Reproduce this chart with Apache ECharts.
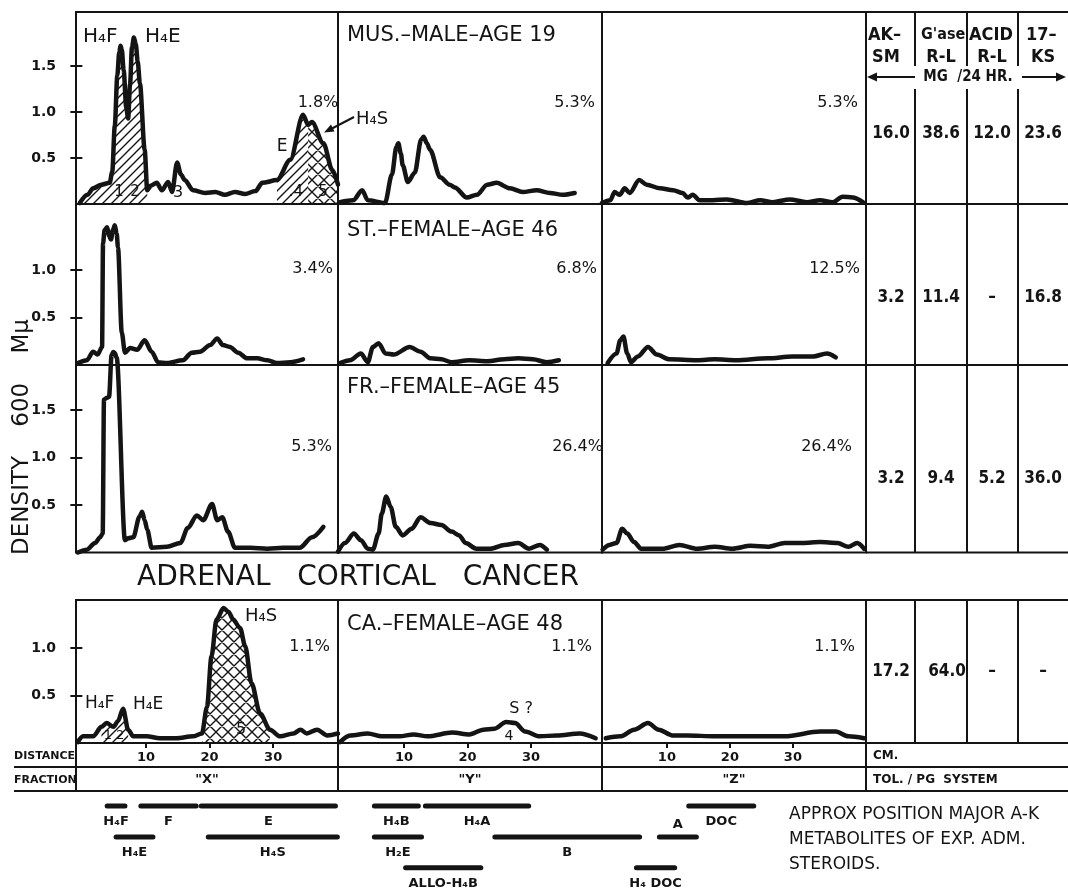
<!DOCTYPE html>
<html>
<head>
<meta charset="utf-8">
<title>Adrenal cortical cancer - paper strip scans</title>
<script src="https://cdn.jsdelivr.net/npm/echarts@6.0.0/dist/echarts.min.js"></script>
<style>
  html, body { margin: 0; padding: 0; background: #fff; }
  #chart { width: 1068px; height: 888px; }
</style>
</head>
<body>
<div id="chart"></div>
<script>
// density at 600 mμ against distance (cm), one scan per patient and fraction
const musX = [[-0.4,0.01],[0.8,0.10],[1.7,0.17],[3.0,0.21],[4.3,0.23],[4.7,0.35],[5.1,0.85],[5.5,1.40],[5.8,1.65],[6.0,1.72],[6.2,1.68],[6.5,1.45],[6.9,1.05],[7.2,0.93],[7.5,1.30],[7.8,1.70],[8.1,1.81],[8.4,1.74],[8.7,1.55],[9.05,1.31],[9.8,0.59],[10.2,0.15],[10.8,0.20],[11.7,0.23],[12.5,0.15],[13.5,0.24],[14.1,0.13],[14.9,0.45],[15.5,0.32],[16.1,0.26],[17.4,0.15],[19.3,0.12],[20.9,0.13],[22.4,0.10],[24.0,0.13],[25.6,0.11],[27.2,0.14],[28.3,0.23],[30.6,0.26],[32.7,0.48],[34.7,0.97],[35.5,0.86],[36.1,0.89],[37.9,0.66],[39.3,0.37],[40.2,0.21]];
const musY = [[-0.1,0.02],[2.0,0.04],[3.4,0.15],[4.3,0.04],[7.0,0.01],[8.1,0.32],[8.8,0.62],[9.1,0.66],[9.5,0.55],[9.8,0.42],[10.6,0.24],[11.7,0.34],[12.7,0.70],[13.1,0.73],[13.6,0.66],[14.1,0.59],[15.7,0.29],[17.2,0.21],[18.0,0.18],[19.9,0.07],[21.5,0.10],[23.1,0.21],[24.6,0.23],[26.7,0.17],[28.7,0.13],[30.9,0.15],[33.0,0.12],[35.0,0.10],[36.9,0.12]];
const musZ = [[-0.3,0.01],[1.0,0.04],[1.7,0.13],[2.5,0.10],[3.3,0.17],[4.1,0.12],[5.6,0.26],[6.8,0.21],[8.9,0.17],[11.0,0.15],[12.5,0.12],[13.3,0.07],[14.1,0.10],[15.2,0.04],[17.3,0.04],[19.5,0.05],[22.7,0.01],[24.8,0.04],[26.8,0.02],[29.5,0.05],[32.2,0.02],[34.3,0.04],[36.3,0.02],[37.9,0.08],[39.5,0.07],[41.1,0.02]];

const stX = [[-0.7,0.02],[0.7,0.05],[1.7,0.14],[2.4,0.11],[3.1,0.19],[3.25,1.28],[3.5,1.42],[3.9,1.45],[4.2,1.36],[4.5,1.32],[4.8,1.42],[5.1,1.47],[5.4,1.38],[5.6,1.24],[6.2,0.34],[6.7,0.13],[7.5,0.18],[8.6,0.16],[9.8,0.26],[10.9,0.14],[11.9,0.03],[13.3,0.02],[15.8,0.05],[17.2,0.13],[18.5,0.14],[20.1,0.21],[21.2,0.28],[22.1,0.21],[23.2,0.19],[24.5,0.13],[25.9,0.07],[27.5,0.07],[29.1,0.05],[30.6,0.02],[32.7,0.03],[34.7,0.06]];
const stY = [[-0.1,0.02],[1.5,0.05],[3.2,0.12],[4.3,0.03],[5.1,0.19],[6.0,0.23],[7.1,0.12],[8.4,0.11],[10.9,0.19],[12.6,0.14],[14.2,0.07],[15.9,0.06],[17.5,0.03],[20.3,0.05],[23.1,0.04],[25.8,0.06],[28.0,0.07],[30.3,0.06],[32.5,0.03],[34.4,0.05]];
const stZ = [[0.6,0.02],[2.0,0.12],[2.6,0.26],[3.1,0.30],[3.7,0.12],[4.3,0.03],[5.4,0.09],[7.0,0.19],[8.4,0.11],[10.4,0.06],[14.8,0.05],[17.6,0.06],[21.0,0.05],[26.0,0.07],[29.9,0.09],[33.2,0.09],[35.4,0.12],[36.8,0.08]];

const frX = [[-0.7,0.0],[0.7,0.03],[2.0,0.10],[2.8,0.16],[3.2,0.2],[3.4,1.61],[3.9,1.63],[4.2,1.64],[4.6,2.08],[4.85,2.11],[5.1,2.10],[5.4,2.05],[6.7,0.13],[7.2,0.15],[8.0,0.16],[9.0,0.38],[9.4,0.43],[9.8,0.34],[10.2,0.24],[10.9,0.05],[13.3,0.06],[15.4,0.10],[16.6,0.26],[18.0,0.39],[19.0,0.34],[20.4,0.51],[21.2,0.34],[22.0,0.37],[22.9,0.22],[24.0,0.05],[26.4,0.05],[29.1,0.04],[31.6,0.05],[34.2,0.05],[36.1,0.16],[37.9,0.27]];
const frY = [[-0.4,0.01],[0.7,0.10],[2.1,0.20],[3.2,0.13],[4.3,0.04],[5.1,0.03],[6.0,0.20],[6.5,0.41],[7.2,0.59],[7.9,0.48],[8.7,0.27],[9.8,0.18],[11.2,0.25],[12.6,0.37],[14.2,0.31],[15.9,0.29],[17.5,0.22],[18.7,0.18],[19.7,0.10],[21.4,0.04],[23.6,0.04],[25.8,0.08],[28.0,0.10],[29.7,0.04],[31.4,0.08],[32.5,0.03]];
const frZ = [[-0.2,0.03],[0.9,0.08],[2.0,0.10],[2.9,0.25],[3.7,0.20],[4.8,0.11],[5.9,0.04],[9.3,0.04],[12.0,0.08],[14.8,0.04],[17.6,0.06],[20.4,0.04],[23.3,0.07],[26.0,0.06],[28.7,0.10],[31.5,0.10],[34.3,0.11],[37.1,0.10],[38.8,0.06],[40.2,0.10],[41.3,0.04]];

const caX = [[-0.7,0.01],[0.1,0.07],[1.7,0.07],[3.0,0.17],[3.8,0.21],[4.9,0.17],[5.6,0.23],[6.4,0.36],[7.2,0.14],[8.0,0.07],[10.1,0.07],[12.2,0.05],[14.8,0.05],[17.4,0.07],[18.8,0.10],[19.6,0.38],[20.3,0.91],[21.1,1.30],[22.2,1.42],[23.0,1.38],[23.7,1.30],[24.8,1.21],[25.6,1.02],[26.6,0.63],[27.95,0.31],[29.5,0.14],[31.1,0.07],[33.2,0.10],[34.3,0.14],[35.3,0.10],[36.9,0.14],[38.5,0.08],[40.2,0.10]];
const caY = [[-0.1,0.01],[1.5,0.08],[4.3,0.10],[6.5,0.07],[9.3,0.07],[11.5,0.09],[13.7,0.07],[17.6,0.11],[20.3,0.09],[22.5,0.14],[24.2,0.15],[26.1,0.22],[27.5,0.21],[29.1,0.12],[31.4,0.07],[34.1,0.08],[37.7,0.10],[40.2,0.05]];
const caZ = [[0.3,0.05],[2.6,0.07],[4.8,0.14],[7.0,0.21],[8.7,0.14],[10.9,0.08],[13.2,0.08],[17.6,0.07],[23.3,0.07],[28.7,0.07],[34.3,0.12],[36.8,0.12],[38.8,0.07],[41.3,0.05]];

const patients = ['MUS.–MALE–AGE 19', 'ST.–FEMALE–AGE 46', 'FR.–FEMALE–AGE 45', 'CA.–FEMALE–AGE 48'];
const percents = [['1.8%', '5.3%', '5.3%'], ['3.4%', '6.8%', '12.5%'], ['5.3%', '26.4%', '26.4%'], ['1.1%', '1.1%', '1.1%']];
const yTickValues = [[0.5, 1, 1.5], [0.5, 1], [0.5, 1, 1.5], [0.5, 1]];
const distTicks = [10, 20, 30];
const fractions = ['"X"', '"Y"', '"Z"'];

// urinary excretion, mg / 24 hr
const tableHead = [['AK–', 'SM'], ["G'ase", 'R-L'], ['ACID', 'R-L'], ['17–', 'KS']];
const tableRows = [['16.0', '38.6', '12.0', '23.6'], ['3.2', '11.4', '–', '16.8'], ['3.2', '9.4', '5.2', '36.0'], ['17.2', '64.0', '–', '–']];

// approx position of the major A-K metabolites (cm), system X and systems Y/Z
const xBarNames = ['H₄F', 'F', 'E', 'H₄E', 'H₄S'];
const xBarFrom = [3.9, 9.2, 18.7, 5.3, 19.8];
const xBarTo = [6.7, 17.9, 39.8, 11.1, 40.1];
const xBarRow = [1, 1, 1, 2, 2];
const yzBarNames = ['H₄B', 'H₄A', 'H₂E', 'ALLO-H₄B', 'B', 'A', 'H₄ DOC', 'DOC'];
const yzBarFrom = [5.3, 13.3, 5.3, 10.2, 24.2, 50.0, 46.4, 54.6];
const yzBarTo = [12.2, 29.5, 12.7, 22.0, 46.9, 55.8, 52.4, 64.8];
const yzBarRow = [1, 1, 2, 3, 2, 2, 3, 1];

const FONT = '"DejaVu Sans", "Noto Sans", sans-serif';
const NARROW = '"DejaVu Sans Condensed", "DejaVu Sans", sans-serif';
const INK = '#141414';

const scans = [[musX, musY, musZ], [stX, stY, stZ], [frX, frY, frZ], [caX, caY, caZ]];
const colLeft = [76, 338, 602], colWidth = [262, 264, 264];
const rowTop = [12, 204, 365, 600], rowHeight = [192, 161, 187.5, 143];
const xMin = [-1.0, -0.4, -0.3], xMax = [40.2, 41.2, 41.6];
const yMax = [2.087, 1.695, 1.974, 1.505];

function hatch(cross, size) {
  const c = document.createElement('canvas');
  c.width = c.height = size;
  const g = c.getContext('2d');
  g.strokeStyle = INK;
  g.lineWidth = 1.4;
  g.beginPath();
  g.moveTo(-1, size + 1); g.lineTo(size + 1, -1);
  g.moveTo(-2, 2); g.lineTo(2, -2);
  g.moveTo(size - 2, size + 2); g.lineTo(size + 2, size - 2);
  if (cross) {
    g.moveTo(-1, -1); g.lineTo(size + 1, size + 1);
    g.moveTo(size - 2, -2); g.lineTo(size + 2, 2);
    g.moveTo(-2, size - 2); g.lineTo(2, size + 2);
  }
  g.stroke();
  return c;
}
const diag = { image: hatch(false, 9), repeat: 'repeat' };
const cross = { image: hatch(true, 12), repeat: 'repeat' };
const slice = (d, a, b) => d.filter(p => p[0] >= a && p[0] <= b);

const grids = [], xAxes = [], yAxes = [], series = [];
const axisText = { color: INK, fontFamily: FONT, fontWeight: 'bold' };

for (let r = 0; r < 4; r++) {
  for (let c = 0; c < 3; c++) {
    const i = grids.length;
    grids.push({
      left: colLeft[c], top: rowTop[r], width: colWidth[c], height: rowHeight[r],
      show: true, borderColor: INK, borderWidth: 2, backgroundColor: 'transparent',
      containLabel: false, outerBoundsMode: 'none'
    });
    const bottomRow = r === 3;
    xAxes.push({
      type: 'value', gridIndex: i, min: xMin[c], max: xMax[c],
      show: bottomRow,
      axisLine: { show: false }, splitLine: { show: false },
      axisTick: { show: bottomRow, customValues: distTicks, length: 5, inside: false, lineStyle: { color: INK, width: 2 } },
      axisLabel: { show: bottomRow, customValues: distTicks, margin: 8, fontSize: 13, ...axisText }
    });
    yAxes.push({
      type: 'value', gridIndex: i, min: 0, max: yMax[r],
      show: c === 0,
      axisLine: { show: false }, splitLine: { show: false },
      axisTick: { show: c === 0, customValues: yTickValues[r], length: 12, inside: false, lineStyle: { color: INK, width: 2 } },
      axisLabel: { show: c === 0, customValues: yTickValues[r], margin: 20, fontSize: 14, formatter: v => v.toFixed(1), ...axisText }
    });
    series.push({
      type: 'line', xAxisIndex: i, yAxisIndex: i, data: scans[r][c],
      symbol: 'none', smooth: 0.3, smoothMonotone: 'x', clip: false, z: 5,
      lineStyle: { color: INK, width: 4.5, cap: 'round', join: 'round' }
    });
  }
}

// hatched areas: diagonal for H4F/H4E and E, cross-hatch for H4S
const hatched = [
  { grid: 0, data: slice(musX, -0.4, 10.2), fill: diag },
  { grid: 0, data: slice(musX, 30.6, 35.5), fill: diag },
  { grid: 0, data: slice(musX, 35.5, 40.2), fill: cross },
  { grid: 9, data: slice(caX, 3.0, 7.2), fill: diag },
  { grid: 9, data: slice(caX, 18.8, 29.5), fill: cross }
];
hatched.forEach(h => series.push({
  type: 'line', xAxisIndex: h.grid, yAxisIndex: h.grid, data: h.data,
  symbol: 'none', smooth: 0.3, smoothMonotone: 'x', z: 3,
  lineStyle: { width: 0, opacity: 0 }, areaStyle: { color: h.fill, opacity: 1 }
}));

// metabolite position bars under the frame
const barGrids = [
  { left: 76, width: 262, min: -1.0, max: 40.2, names: xBarNames, from: xBarFrom, to: xBarTo, row: xBarRow },
  { left: 338, width: 528, min: -0.4, max: 82.4, names: yzBarNames, from: yzBarFrom, to: yzBarTo, row: yzBarRow }
];
barGrids.forEach(b => {
  const i = grids.length;
  grids.push({ left: b.left, top: 792, width: b.width, height: 96, show: false, outerBoundsMode: 'none' });
  xAxes.push({ type: 'value', gridIndex: i, min: b.min, max: b.max, show: false });
  yAxes.push({ type: 'value', gridIndex: i, min: 0.55, max: 3.65, inverse: true, show: false });
  series.push({
    type: 'custom', xAxisIndex: i, yAxisIndex: i, clip: false,
    data: b.names.map((n, k) => [b.from[k], b.to[k], b.row[k]]),
    renderItem: (params, api) => {
      const p = api.coord([api.value(0), api.value(2)]);
      const q = api.coord([api.value(1), api.value(2)]);
      const name = b.names[params.dataIndex];
      const up = name === 'A';
      return {
        type: 'group',
        children: [
          { type: 'line', shape: { x1: p[0], y1: p[1], x2: q[0], y2: q[1] }, style: { stroke: INK, lineWidth: 5, lineCap: 'round' } },
          { type: 'text', x: (p[0] + q[0]) / 2, y: p[1] + (up ? -12 : 16),
            style: { text: name, fill: INK, font: 'bold 13px ' + FONT, textAlign: 'center', textVerticalAlign: 'middle' } }
        ]
      };
    }
  });
});

// static frame, table and annotations
function T(x, y, text, size, opt = {}) {
  return {
    type: 'text', x, y, silent: true, z: 20, rotation: opt.rot || 0,
    style: { text, fill: INK, font: (opt.bold ? 'bold ' : '') + size + 'px ' + (opt.family || FONT),
      textAlign: opt.align || 'left', textVerticalAlign: 'middle' }
  };
}
function L(x1, y1, x2, y2, w = 2) {
  return { type: 'line', silent: true, z: 20, shape: { x1, y1, x2, y2 }, style: { stroke: INK, lineWidth: w } };
}
function P(points) {
  return { type: 'polygon', silent: true, z: 20, shape: { points }, style: { fill: INK } };
}

const g = [];
[12, 204, 365, 552.5, 600, 743].forEach(y => g.push(L(866, y, 1068, y)));
[767, 791].forEach(y => g.push(L(14, y, 1068, y)));
[915, 967, 1018].forEach(x => { g.push(L(x, 12, x, 66)); g.push(L(x, 89, x, 552.5)); g.push(L(x, 600, x, 743)); });
[76, 338, 602, 866].forEach(x => g.push(L(x, 743, x, 791)));

const tableX = [891, 941, 992, 1043];
const headX = [868, 921, 969, 1026];
tableHead.forEach((h, k) => {
  g.push(T(headX[k], 35, h[0], k === 1 ? 16 : 18, { bold: true, family: NARROW }));
  g.push(T(tableX[k] + (k === 0 ? -5 : 0), 57, h[1], 18, { bold: true, align: 'center', family: NARROW }));
});
g.push(T(968, 77, 'MG  /24 HR.', 15, { bold: true, align: 'center', family: NARROW }));
g.push(L(874, 77, 915, 77), P([[867, 77], [877, 72.5], [877, 81.5]]));
g.push(L(1022, 77, 1058, 77), P([[1066, 77], [1056, 72.5], [1056, 81.5]]));
const tableY = [134, 298, 479, 672];
tableRows.forEach((row, r) => row.forEach((v, k) =>
  g.push(T(tableX[k] + (r === 3 && k === 1 ? 6 : 0), tableY[r], v, 17, { bold: true, align: 'center', family: NARROW }))));

// patient titles and recovery percentages
const titleY = [36, 231, 388, 625];
patients.forEach((p, r) => g.push(T(347, titleY[r], p, 21)));
const pctPos = [
  [[318, 103, 'center'], [595, 103], [858, 103]],
  [[333, 269], [597, 269], [860, 269]],
  [[332, 447], [603, 447], [852, 447]],
  [[330, 647], [592, 647], [855, 647]]
];
percents.forEach((row, r) => row.forEach((s, c) => {
  const pp = pctPos[r][c];
  g.push(T(pp[0], pp[1], s, 16, { align: pp[2] || 'right' }));
}));

// peak labels
g.push(T(83, 37, 'H₄F', 20), T(145, 37, 'H₄E', 20));
g.push(T(119, 192, '1', 15, { align: 'center' }), T(135, 192, '2', 15, { align: 'center' }));
g.push(T(178, 193, '3', 16, { align: 'center' }), T(282, 147, 'E', 17, { align: 'center' }));
g.push(T(296, 192, '.4', 15, { align: 'center' }), T(323, 192, '5', 15, { align: 'center' }));
g.push(T(356, 119, 'H₄S', 18));
g.push(L(354, 117, 331, 129), P([[324, 132.5], [334.5, 131.5], [331, 124.5]]));
g.push(T(245, 616, 'H₄S', 18), T(85, 704, 'H₄F', 17), T(133, 705, 'H₄E', 17));
g.push(T(114, 736, '1 2', 13, { align: 'center' }), T(241, 730, '5', 16, { align: 'center' }));
g.push(T(521, 709, 'S ?', 16, { align: 'center' }), T(509, 736, '4', 14, { align: 'center' }));

// axis titles, rows below
g.push(T(22, 437, 'DENSITY    600    Mμ', 23, { rot: Math.PI / 2, align: 'center' }));
g.push(T(358, 578, 'ADRENAL   CORTICAL   CANCER', 28, { align: 'center' }));
g.push(T(14, 756, 'DISTANCE', 11, { bold: true }), T(14, 780, 'FRACTION', 11, { bold: true }));
g.push(T(873, 756, 'CM.', 12, { bold: true }), T(873, 780, 'TOL. / PG  SYSTEM', 12, { bold: true }));
const fracX = [207, 470, 734];
fractions.forEach((f, k) => g.push(T(fracX[k], 780, f, 13, { bold: true, align: 'center' })));
g.push(T(789, 815, 'APPROX POSITION MAJOR A-K', 17));
g.push(T(789, 840, 'METABOLITES OF EXP. ADM.', 17));
g.push(T(789, 865, 'STEROIDS.', 17));

const chart = echarts.init(document.getElementById('chart'));
chart.setOption({
  backgroundColor: '#fff',
  animation: false,
  textStyle: { fontFamily: FONT },
  grid: grids,
  xAxis: xAxes,
  yAxis: yAxes,
  series: series,
  graphic: g
});
</script>
</body>
</html>
